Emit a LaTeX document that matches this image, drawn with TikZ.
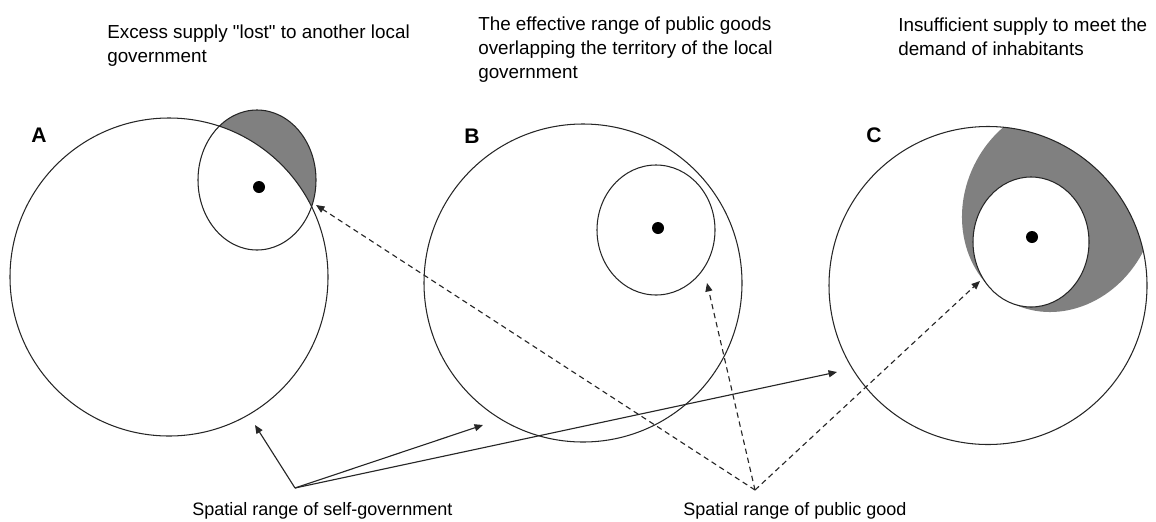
\documentclass[tikz,border=0pt]{standalone}
\usepackage{fontspec}
\setmainfont{Liberation Sans}[Ligatures=TeXOff]
\usetikzlibrary{arrows.meta}

\begin{document}
\begin{tikzpicture}[x=0.025cm,y=-0.025cm,
  territory/.style={draw=black!85,line width=0.75pt},
  reach/.style={draw=black!85,line width=0.75pt},
  gap/.style={fill=black!50},
  seat/.style={fill=black},
  tag/.style={font=\fontsize{15}{18}\selectfont\bfseries,inner sep=0pt},
  note/.style={font=\fontsize{13.4}{17.07}\selectfont,align=left,anchor=north west,inner sep=0pt},
  pointer/.style={draw=black!85,line width=0.8pt,-{Triangle[length=6pt,width=5pt]}},
  dpointer/.style={pointer,dash pattern=on 3.8pt off 2.8pt}]
\useasboundingbox (0,0) rectangle (1156,521);
% A: the good spills over the border
\begin{scope}
  \clip (257,180) ellipse [x radius=59,y radius=70];
  \fill[gap,even odd rule] (257,180) ellipse [x radius=59,y radius=70]
    (169,277) circle [radius=159];
\end{scope}
\draw[territory] (169,277) circle [radius=159];
\draw[reach] (257,180) ellipse [x radius=59,y radius=70];
\fill[seat] (259,187) circle [radius=6];
% B: the good stays inside
\draw[territory] (583,283) circle [radius=159];
\draw[reach] (656,230) ellipse [x radius=59,y radius=65];
\fill[seat] (658,228) circle [radius=6];
% C: demand larger than supply
\begin{scope}
  \clip (988,285.5) circle [radius=159];
  \fill[gap,shift={(1059.3,207)},rotate=64.3] (0,0) ellipse [x radius=107.2,y radius=94.9];
\end{scope}
\draw[territory] (988,285.5) circle [radius=159];
\filldraw[reach,fill=white] (1031,242) ellipse [x radius=58,y radius=65];
\fill[seat] (1032,237) circle [radius=6];
% letters and notes
\node[tag] (labA) at (39,135) {A};
\node[tag] (labB) at (472,136) {B};
\node[tag] (labC) at (874,135) {C};
\node[note] (lostA) at (107,25) {Excess supply "lost" to another local\\government};
\node[note] (overB) at (478,17) {The effective range of public goods\\overlapping the territory of the local\\government};
\node[note] (shortC) at (898,18) {Insufficient supply to meet the\\demand of inhabitants};
\node[note,font=\fontsize{12.8}{15}\selectfont] (selfname) at (192,502) {Spatial range of self-government};
\node[note,font=\fontsize{12.8}{15}\selectfont] (goodname) at (683,502) {Spatial range of public good};
% arrows
\coordinate (selfgov) at (295,488);
\coordinate (pubgood) at (755,490);
\coordinate (tipA) at (255,425);
\coordinate (tipB) at (483,425);
\coordinate (tipC) at (837,372);
\coordinate (hitA) at (316,205);
\coordinate (hitB) at (707,283);
\coordinate (hitC) at (980,281);
\foreach \t in {tipA,tipB,tipC} \draw[pointer] (selfgov) -- (\t);
\foreach \t in {hitA,hitB,hitC} \draw[dpointer] (pubgood) -- (\t);
\end{tikzpicture}
\end{document}
